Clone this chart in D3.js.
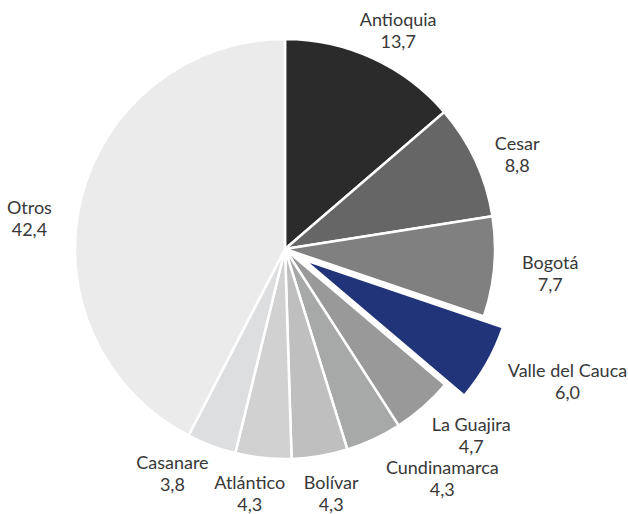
<!DOCTYPE html>
<html><head><meta charset="utf-8">
<script src="https://cdn.jsdelivr.net/npm/d3@7"></script>
<style>html,body{margin:0;padding:0;background:#fff;}svg{display:block;}</style>
</head><body>
<svg id="chart" width="628" height="514"></svg>
<script>
const categories = ["Antioquia","Cesar","Bogotá","Valle del Cauca","La Guajira","Cundinamarca","Bolívar","Atlántico","Casanare","Otros"];
const values = [13.7, 8.8, 7.7, 6.0, 4.7, 4.3, 4.3, 4.3, 3.8, 42.4];
const valueLabels = ["13,7","8,8","7,7","6,0","4,7","4,3","4,3","4,3","3,8","42,4"];
const colors = ["#2b2b2b","#666666","#808080","#213479","#999999","#a7a8a8","#bfbfbf","#d1d1d1","#dddee0","#ebebeb"];
const highlighted = ["Valle del Cauca"];
// small label nudges (layout only) to avoid overlaps like the original
const labelNudge = [[2,8],[5,10],[10,3],[13,-2],[10,-2],[37,2],[4,-3],[-8,-5],[-20,-10],[-12,28]];

const svg = d3.select("#chart");
const cx = 285, cy = 249, r = 210, explode = 22, labelR = 228;
const g = svg.append("g").attr("transform", `translate(${cx},${cy})`);

const data = categories.map((c,i)=>({name:c, value:values[i], label:valueLabels[i], color:colors[i], nudge:labelNudge[i]}));
const pie = d3.pie().value(d=>d.value).sort(null);
const arcs = pie(data);
const arc = d3.arc().innerRadius(0).outerRadius(r);

function off(d){
  if(!highlighted.includes(d.data.name)) return [0,0];
  const a = (d.startAngle+d.endAngle)/2;
  return [Math.sin(a)*explode, -Math.cos(a)*explode];
}

g.selectAll("path.slice").data(arcs).join("path")
  .attr("class","slice")
  .attr("d", arc)
  .attr("fill", d=>d.data.color)
  .attr("stroke","#fff").attr("stroke-width",2.5).attr("stroke-linejoin","miter")
  .attr("transform", d=>{const o=off(d); return `translate(${o[0]},${o[1]})`;});

const lineH = 22, fs = 18;
const lab = g.selectAll("g.lab").data(arcs).join("g").attr("class","lab");
lab.each(function(d){
  const sel = d3.select(this);
  const t = sel.append("text").attr("font-family","Lato, 'Open Sans', sans-serif")
    .attr("font-size",fs).attr("fill","#383838").attr("text-anchor","middle");
  t.append("tspan").attr("x",0).attr("y",0).text(d.data.name);
  t.append("tspan").attr("x",0).attr("y",lineH).text(d.data.label);
  const bb = t.node().getBBox();
  const a = (d.startAngle+d.endAngle)/2;
  const o = off(d);
  const px = Math.sin(a)*labelR + o[0], py = -Math.cos(a)*labelR + o[1];
  const bx = px + Math.sin(a)*bb.width/2 + d.data.nudge[0];
  const by = py - Math.cos(a)*bb.height/2 + d.data.nudge[1];
  const dx = bx - (bb.x + bb.width/2), dy = by - (bb.y + bb.height/2);
  sel.attr("transform", `translate(${dx},${dy})`);
});
</script>
</body></html>
